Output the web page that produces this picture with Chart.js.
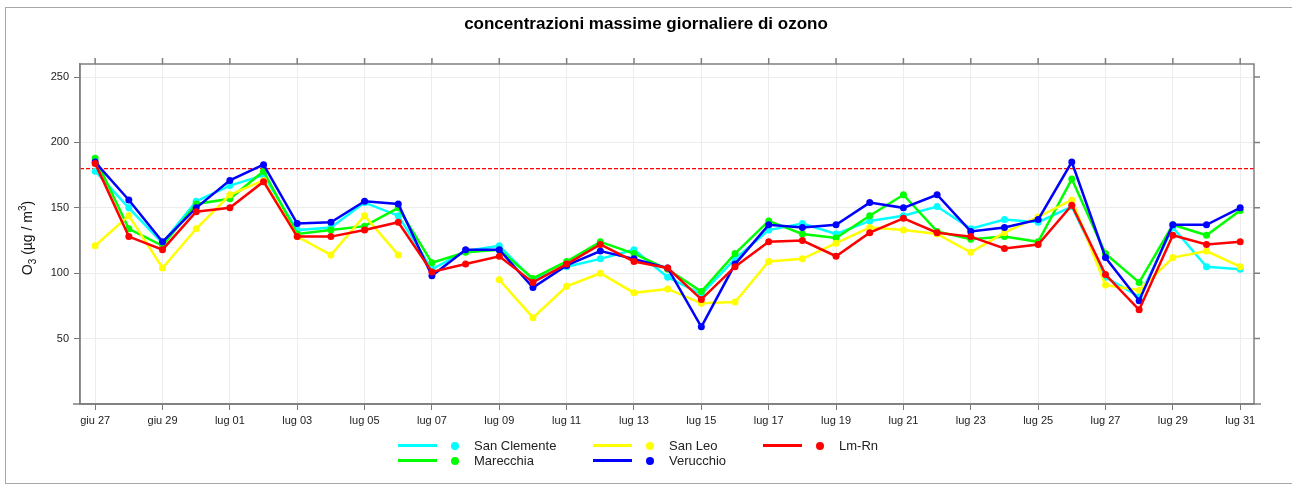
<!DOCTYPE html>
<html>
<head>
<meta charset="utf-8">
<script src="https://cdn.jsdelivr.net/npm/chart.js@4.4.1/dist/chart.umd.min.js"></script>
<style>
  body { margin: 0; overflow: hidden; background: #fff; font-family: "Liberation Sans", Arial, sans-serif; }
  #wrap { position: relative; width: 1292px; height: 484px; }
  #frame { position: absolute; left: 5px; top: 7px; width: 1310px; height: 477px; border: 1px solid #a8a8a8; box-sizing: border-box; }
  #title { position: absolute; top: 14px; left: 0; width: 1292px; text-align: center; font-weight: bold; font-size: 17px; line-height: 19px; color: #000; }
  canvas { position: absolute; left: 0; top: 0; }
  .lg-line { position: absolute; width: 39px; height: 3px; }
  .lg-dot { position: absolute; width: 8px; height: 8px; border-radius: 50%; }
  .lg-text { position: absolute; font-size: 13px; line-height: 15px; color: #222; white-space: nowrap; }
</style>
</head>
<body>
<div id="wrap">
  <div id="frame"></div>
  <canvas id="chart" width="1292" height="484"></canvas>
  <div id="title">concentrazioni massime giornaliere di ozono</div>
  <div id="legend"></div>
</div>
<script>
// giorni (giu 27 .. lug 31)
const DATES = ['giu 27', 'giu 28', 'giu 29', 'giu 30',
  'lug 01', 'lug 02', 'lug 03', 'lug 04', 'lug 05', 'lug 06', 'lug 07', 'lug 08', 'lug 09', 'lug 10',
  'lug 11', 'lug 12', 'lug 13', 'lug 14', 'lug 15', 'lug 16', 'lug 17', 'lug 18', 'lug 19', 'lug 20',
  'lug 21', 'lug 22', 'lug 23', 'lug 24', 'lug 25', 'lug 26', 'lug 27', 'lug 28', 'lug 29', 'lug 30', 'lug 31'];
const Y_TICKS = [50, 100, 150, 200, 250];
const LIMIT = 180;

const SERIES_NAMES = ['San Clemente', 'Marecchia', 'San Leo', 'Verucchio', 'Lm-Rn'];

const SAN_CLEMENTE = [178, 150, 123, 155, 167, 175, 133, 135, 154, 144, 103, 117, 121, 95, 105, 111, 118, 97, 84, 111,
  133, 138, 130, 140, 144, 151, 134, 141, 139, 151, 97, 82, 135, 105, 103];
const MARECCHIA = [188, 134, 121, 153, 157, 178, 130, 133, 136, 150, 108, 116, 118, 96, 109, 124, 115, 103, 86, 115,
  140, 130, 127, 144, 160, 132, 126, 128, 124, 172, 115, 93, 137, 129, 148];
const SAN_LEO = [121, 144, 104, 134, 160, 171, 128, 114, 144, 114, null, null, 95, 66, 90, 100, 85, 88, 77, 78,
  109, 111, 123, 135, 133, 130, 116, 131, 143, 156, 91, 87, 112, 117, 105];
const VERUCCHIO = [185, 156, 124, 150, 171, 183, 138, 139, 155, 153, 98, 118, 118, 89, 106, 117, 111, 104, 59, 107,
  137, 135, 137, 154, 150, 160, 132, 135, 141, 185, 112, 79, 137, 137, 150];
const LM_RN = [184, 128, 118, 147, 150, 170, 128, 128, 133, 139, 101, 107, 113, 93, 107, 122, 109, 104, 80, 105,
  124, 125, 113, 131, 142, 131, 128, 119, 122, 152, 99, 72, 129, 122, 124];

const VALUES = [SAN_CLEMENTE, MARECCHIA, SAN_LEO, VERUCCHIO, LM_RN];
const COLORS = ['#00ffff', '#00ff00', '#ffff00', '#0000ff', '#ff0000'];

const FONT = '"Liberation Sans", Arial, sans-serif';
Chart.defaults.font.family = FONT;

const datasets = SERIES_NAMES.map((name, i) => ({
  label: name,
  data: VALUES[i].map((v, d) => ({ x: d, y: v })),
  borderColor: COLORS[i],
  backgroundColor: COLORS[i],
  pointBackgroundColor: COLORS[i],
  borderWidth: 2.5,
  pointRadius: 3.5,
  pointHoverRadius: 3.5,
  pointBorderWidth: 0,
  tension: 0,
  spanGaps: false,
  order: SERIES_NAMES.length - i
}));

// riquadro, tacche in alto/destra e soglia 180
const boxPlugin = {
  id: 'box',
  beforeDatasetsDraw(chart) {
    const { ctx, chartArea: a, scales: { x, y } } = chart;
    ctx.save();
    const ly = y.getPixelForValue(LIMIT);
    ctx.strokeStyle = '#ff0000';
    ctx.lineWidth = 1.2;
    ctx.setLineDash([4, 2]);
    ctx.beginPath();
    ctx.moveTo(a.left, ly);
    ctx.lineTo(a.right, ly);
    ctx.stroke();
    ctx.setLineDash([]);

    ctx.strokeStyle = '#808080';
    ctx.lineWidth = 1.5;
    ctx.strokeRect(a.left, a.top, a.right - a.left, a.bottom - a.top);
    ctx.beginPath();
    x.ticks.forEach(t => {
      const px = x.getPixelForValue(t.value);
      ctx.moveTo(px, a.top);
      ctx.lineTo(px, a.top - 6);
    });
    y.ticks.forEach(t => {
      const py = y.getPixelForValue(t.value);
      ctx.moveTo(a.right, py);
      ctx.lineTo(a.right + 6, py);
    });
    ctx.moveTo(a.left - 7, a.bottom);
    ctx.lineTo(a.right + 7, a.bottom);
    ctx.stroke();
    ctx.restore();
  },
  // titolo asse y con pedice e apice: O3 (ug / m3)
  afterDraw(chart) {
    const { ctx, chartArea: a } = chart;
    const parts = [['O', 14, 0], ['3', 10, 4], [' (\u00b5g / m', 14, 0], ['3', 10, -6], [')', 14, 0]];
    ctx.save();
    ctx.fillStyle = '#111';
    ctx.textBaseline = 'alphabetic';
    let total = 0;
    parts.forEach(p => { ctx.font = p[1] + 'px ' + FONT; total += ctx.measureText(p[0]).width; });
    ctx.translate(32, (a.top + a.bottom) / 2 + 4 + total / 2);
    ctx.rotate(-Math.PI / 2);
    let cx = 0;
    parts.forEach(p => {
      ctx.font = p[1] + 'px ' + FONT;
      ctx.fillText(p[0], cx, p[2]);
      cx += ctx.measureText(p[0]).width;
    });
    ctx.restore();
  }
};

new Chart(document.getElementById('chart'), {
  type: 'line',
  data: { datasets: datasets },
  plugins: [boxPlugin],
  options: {
    responsive: false,
    animation: false,
    layout: { padding: { left: 0, top: 64, right: 38, bottom: 0 } },
    plugins: { legend: { display: false }, tooltip: { enabled: false } },
    scales: {
      x: {
        type: 'linear',
        min: -0.45,
        max: 34.41,
        afterBuildTicks: s => { s.ticks = DATES.map((d, i) => ({ value: i })).filter(t => t.value % 2 === 0); },
        afterFit: s => { s.height = 80; },
        ticks: { callback: v => DATES[v], font: { size: 11 }, color: '#222', padding: 4, maxRotation: 0, autoSkip: false },
        grid: { color: '#ececec', lineWidth: 1, tickColor: '#777', tickLength: 6 },
        border: { display: true, color: '#808080', width: 1.5 }
      },
      y: {
        min: 0,
        max: 260,
        afterBuildTicks: s => { s.ticks = Y_TICKS.map(v => ({ value: v })); },
        afterFit: s => { s.width = 80; },
        ticks: { font: { size: 11 }, color: '#222', padding: 5 },
        grid: { color: '#ececec', lineWidth: 1, tickColor: '#777', tickLength: 6 },
        border: { display: true, color: '#808080', width: 1.5 }
      }
    }
  }
});

// legenda
const LEGEND_COLS = [398, 593, 763];
const LEGEND_ROWS = [445.5, 460.5];
const legend = document.getElementById('legend');
SERIES_NAMES.forEach((name, i) => {
  const cx = LEGEND_COLS[Math.floor(i / 2)];
  const cy = LEGEND_ROWS[i % 2];
  const line = document.createElement('div');
  line.className = 'lg-line';
  line.style.left = cx + 'px';
  line.style.top = (cy - 1.5) + 'px';
  line.style.background = COLORS[i];
  const dot = document.createElement('div');
  dot.className = 'lg-dot';
  dot.style.left = (cx + 53) + 'px';
  dot.style.top = (cy - 4) + 'px';
  dot.style.background = COLORS[i];
  const txt = document.createElement('div');
  txt.className = 'lg-text';
  txt.style.left = (cx + 76) + 'px';
  txt.style.top = (cy - 7.5) + 'px';
  txt.textContent = name;
  legend.append(line, dot, txt);
});
</script>
</body>
</html>
